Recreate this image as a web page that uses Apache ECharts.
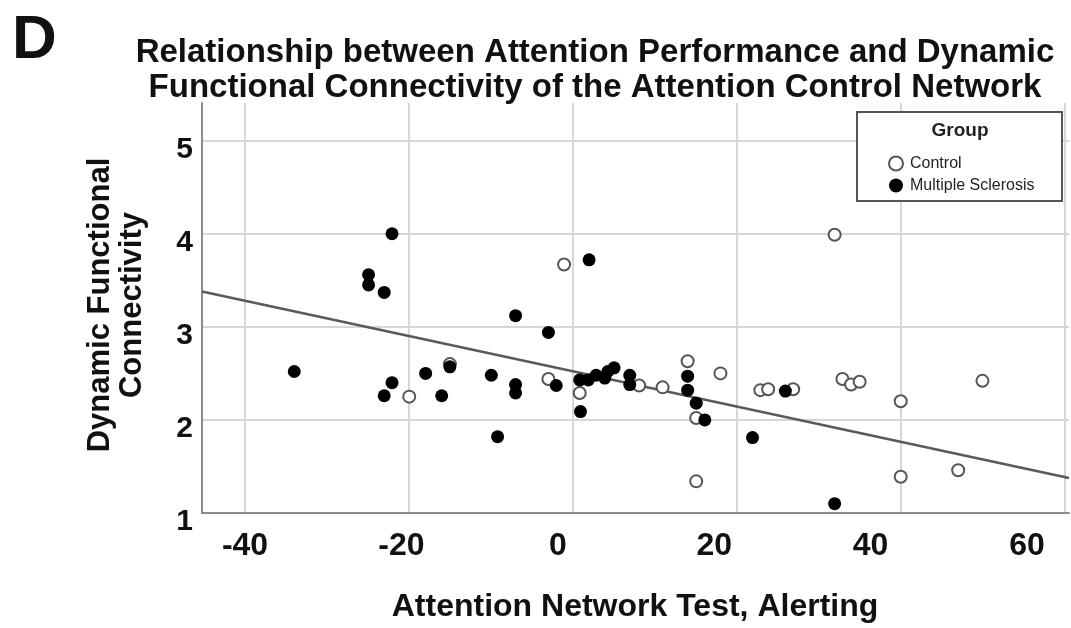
<!DOCTYPE html>
<html>
<head>
<meta charset="utf-8">
<script src="https://cdn.jsdelivr.net/npm/echarts@6/dist/echarts.min.js"></script>
<style>
html,body{margin:0;padding:0;background:#fff;}
#chart{width:1071px;height:628px;}
</style>
</head>
<body>
<div id="chart"></div>
<script>
// ---- data ----
const controlX = [-19.0, -13.8, 0.8, -1.2, 2.8, 10.4, 13.4, 16.6, 17.7, 17.7, 20.8, 25.9, 26.9, 30.1, 35.4, 36.4, 37.5, 38.6, 43.85, 43.85, 51.2, 54.3];
const controlY = [2.25, 2.60, 3.67, 2.44, 2.29, 2.37, 2.35, 2.63, 2.02, 1.34, 2.50, 2.32, 2.33, 2.33, 3.99, 2.44, 2.38, 2.41, 2.20, 1.39, 1.46, 2.42];
const msX = [-33.7, -24.2, -24.2, -22.2, -21.2, -21.2, -22.2, -16.9, -13.8, -14.85, -8.5, -7.7, -5.4, -5.4, -5.4, -1.2, -0.2, 2.9, 2.8, 3.9, 4.0, 4.9, 6.0, 6.4, 7.2, 9.2, 9.2, 16.6, 16.6, 17.7, 18.8, 24.9, 29.1, 35.4];
const msY = [2.52, 3.56, 3.45, 3.37, 4.00, 2.40, 2.26, 2.50, 2.57, 2.26, 2.48, 1.82, 3.12, 2.38, 2.29, 2.94, 2.37, 2.09, 2.43, 2.43, 3.72, 2.48, 2.45, 2.52, 2.56, 2.48, 2.38, 2.47, 2.32, 2.18, 2.00, 1.81, 2.31, 1.10];
const fitX = [-45.5, 65.37];
const fitY = [3.38, 1.375];
const xTicks = [-40, -20, 0, 20, 40, 60];
const yTicks = [1, 2, 3, 4, 5];
const groupNames = ['Control', 'Multiple Sclerosis'];
const titleText = 'Relationship between Attention Performance and Dynamic\nFunctional Connectivity of the Attention Control Network';
const xTitle = 'Attention Network Test, Alerting';
const yTitle = 'Dynamic Functional\nConnectivity';

const zip = (a, b) => a.map((v, i) => [v, b[i]]);
const FONT = '"Liberation Sans", Arial, sans-serif';

const chart = echarts.init(document.getElementById('chart'), null, {renderer: 'canvas'});
const option = {
  backgroundColor: '#fff',
  animation: false,
  textStyle: {fontFamily: FONT},
  title: {
    text: titleText,
    left: 590, top: 30, textAlign: 'center',
    textStyle: {fontSize: 33, fontWeight: 'bold', color: '#111', lineHeight: 35, fontFamily: FONT}
  },
  grid: [
    {left: 202, right: 2, top: 103, bottom: 115},
    {left: 245, right: 44, top: 103, bottom: 115},
    {left: 245, right: 6, top: 103, bottom: 115}
  ],
  xAxis: [
    {type: 'value', gridIndex: 0, min: fitX[0], max: fitX[1],
     axisLine: {show: true, onZero: false, lineStyle: {color: '#8c8c8c', width: 2}},
     axisTick: {show: false}, axisLabel: {show: false}, splitLine: {show: false}},
    {type: 'value', gridIndex: 1, min: xTicks[0], max: xTicks[xTicks.length - 1], interval: 20,
     axisLine: {show: false, onZero: false}, axisTick: {show: false}, splitLine: {show: false},
     axisLabel: {show: true, margin: 17, fontSize: 32, fontWeight: 'bold', color: '#111', fontFamily: FONT}},
    {type: 'value', gridIndex: 2, min: 0, max: 100, interval: 20,
     axisLine: {show: false, onZero: false}, axisTick: {show: false}, axisLabel: {show: false},
     splitLine: {show: true, lineStyle: {color: '#d6d6d6', width: 2}}}
  ],
  yAxis: [
    {type: 'value', gridIndex: 0, min: yTicks[0], max: 5.405, interval: 1,
     axisLine: {show: true, onZero: false, lineStyle: {color: '#8c8c8c', width: 2}},
     axisTick: {show: false},
     axisLabel: {show: true, margin: 9, fontSize: 30, fontWeight: 'bold', color: '#111', fontFamily: FONT,
                 verticalAlign: 'top', lineHeight: 18,
                 formatter: v => (yTicks.indexOf(v) >= 0 ? String(v) : '')},
     splitLine: {show: true, showMinLine: false, showMaxLine: false, lineStyle: {color: '#d6d6d6', width: 2}}},
    {type: 'value', gridIndex: 1, min: 1, max: 5.405, show: false, axisLine: {onZero: false}, splitLine: {show: false}},
    {type: 'value', gridIndex: 2, min: 1, max: 5.405, show: false, axisLine: {onZero: false}, splitLine: {show: false}}
  ],
  legend: {
    data: groupNames,
    orient: 'vertical',
    left: 883, top: 150,
    itemWidth: 14, itemHeight: 14, itemGap: 5,
    textStyle: {fontSize: 16, color: '#222', lineHeight: 17, padding: [0, 0, 0, 2], fontFamily: FONT},
    z: 20
  },
  graphic: [
    {type: 'text', left: 12, top: 10, z: 10,
     style: {text: 'D', fontSize: 62, fontWeight: 'bold', fill: '#111', fontFamily: FONT}},
    {type: 'text', x: 116, y: 305, rotation: Math.PI / 2, z: 10,
     style: {text: yTitle, fontSize: 31, fontWeight: 'bold', fill: '#111', fontFamily: FONT,
             align: 'center', verticalAlign: 'middle', lineHeight: 32}},
    {type: 'text', x: 635, y: 607, z: 10,
     style: {text: xTitle, fontSize: 32, fontWeight: 'bold', fill: '#111', fontFamily: FONT,
             align: 'center', verticalAlign: 'middle'}},
    {type: 'rect', shape: {x: 857, y: 112, width: 205, height: 89}, z: 15,
     style: {fill: '#fff', stroke: '#555', lineWidth: 2}},
    {type: 'text', x: 960, y: 131, z: 16,
     style: {text: 'Group', fontSize: 19, fontWeight: 'bold', fill: '#222', fontFamily: FONT,
             align: 'center', verticalAlign: 'middle'}}
  ],
  series: [
    {name: 'Fit line', type: 'line', xAxisIndex: 0, yAxisIndex: 0, data: zip(fitX, fitY),
     symbol: 'none', silent: true, z: 3,
     lineStyle: {color: '#5a5a5a', width: 2.5}},
    {name: groupNames[0], type: 'scatter', xAxisIndex: 0, yAxisIndex: 0, data: zip(controlX, controlY),
     symbol: 'circle', symbolSize: 12, z: 4,
     itemStyle: {color: '#fff', borderColor: '#555', borderWidth: 2, opacity: 1}},
    {name: groupNames[1], type: 'scatter', xAxisIndex: 0, yAxisIndex: 0, data: zip(msX, msY),
     symbol: 'circle', symbolSize: 13, z: 5,
     itemStyle: {color: '#000', opacity: 1}}
  ]
};
chart.setOption(option);
</script>
</body>
</html>
